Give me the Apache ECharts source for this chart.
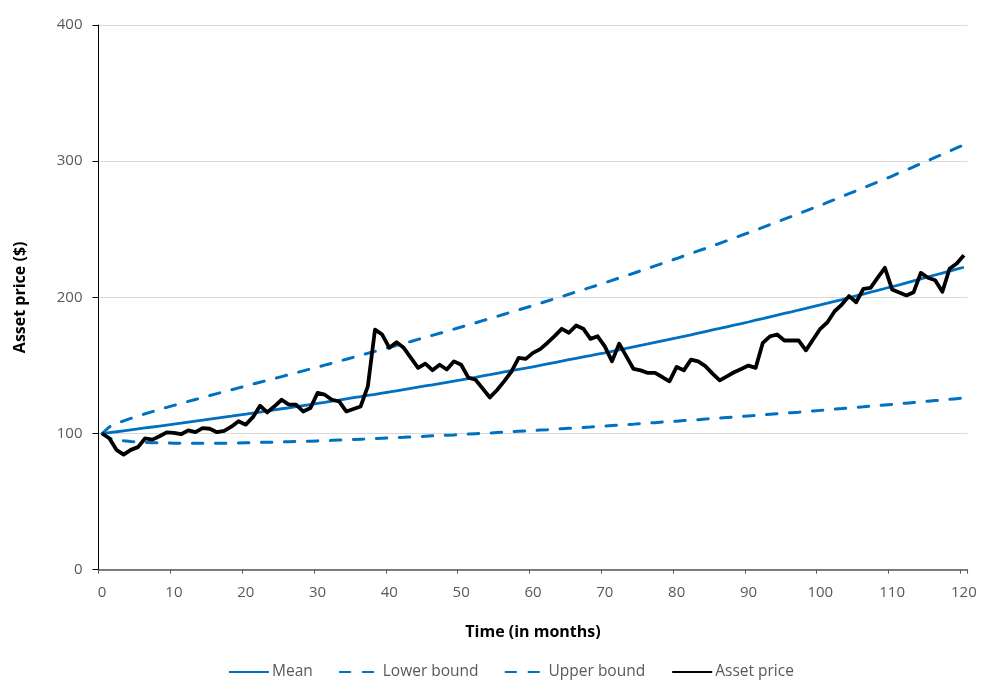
<!DOCTYPE html>
<html>
<head>
<meta charset="utf-8">
<script src="https://cdn.jsdelivr.net/npm/echarts@6/dist/echarts.min.js"></script>
<style>html,body{margin:0;padding:0;background:#fff}#c{width:987px;height:691px}</style>
</head>
<body>
<div id="c"></div>
<script>
const months = ['0','1','2','3','4','5','6','7','8','9','10','11','12','13','14','15','16','17','18','19','20','21','22','23','24','25','26','27','28','29','30','31','32','33','34','35','36','37','38','39','40','41','42','43','44','45','46','47','48','49','50','51','52','53','54','55','56','57','58','59','60','61','62','63','64','65','66','67','68','69','70','71','72','73','74','75','76','77','78','79','80','81','82','83','84','85','86','87','88','89','90','91','92','93','94','95','96','97','98','99','100','101','102','103','104','105','106','107','108','109','110','111','112','113','114','115','116','117','118','119','120'];

const meanValues = [100.0,100.7,101.3,102.0,102.7,103.4,104.1,104.8,105.5,106.2,
106.9,107.6,108.4,109.1,109.8,110.6,111.3,112.0,112.7,113.5,
114.2,115.0,115.8,116.6,117.4,118.2,118.9,119.7,120.5,121.3,
122.1,122.9,123.8,124.6,125.5,126.3,127.1,128.0,128.8,129.7,
130.5,131.4,132.3,133.2,134.1,135.0,135.8,136.7,137.6,138.5,
139.4,140.4,141.3,142.3,143.2,144.2,145.2,146.1,147.1,148.0,
149.0,150.0,151.1,152.1,153.1,154.2,155.2,156.2,157.2,158.3,
159.3,160.4,161.5,162.6,163.7,164.8,165.8,166.9,168.0,169.1,
170.2,171.4,172.5,173.7,174.9,176.1,177.2,178.4,179.6,180.7,
181.9,183.2,184.4,185.7,186.9,188.2,189.4,190.7,191.9,193.2,
194.4,195.7,197.1,198.4,199.8,201.1,202.4,203.8,205.1,206.5,
207.8,209.2,210.7,212.1,213.5,215.0,216.4,217.8,219.2,220.7,
222.1];

const lowerValues = [100.0,96.5,95.4,94.7,94.2,93.8,93.5,93.3,93.1,93.0,
92.9,92.8,92.8,92.8,92.8,92.8,92.9,92.9,93.0,93.1,
93.2,93.3,93.5,93.6,93.7,93.8,94.0,94.1,94.3,94.4,
94.6,94.8,95.0,95.2,95.4,95.6,95.8,96.0,96.3,96.5,
96.7,97.0,97.2,97.5,97.7,98.0,98.3,98.5,98.8,99.0,
99.3,99.6,99.9,100.1,100.4,100.7,101.0,101.3,101.6,101.9,
102.2,102.5,102.8,103.2,103.5,103.8,104.1,104.5,104.8,105.2,
105.5,105.9,106.2,106.6,106.9,107.3,107.7,108.0,108.4,108.7,
109.1,109.5,109.9,110.2,110.6,111.0,111.4,111.8,112.1,112.5,
112.9,113.3,113.7,114.1,114.5,114.9,115.3,115.7,116.2,116.6,
117.0,117.4,117.9,118.3,118.8,119.2,119.6,120.1,120.5,121.0,
121.4,121.9,122.3,122.8,123.2,123.7,124.2,124.6,125.1,125.6,
126.1];

const upperValues = [100.0,104.8,107.2,109.3,111.1,112.9,114.5,116.1,117.7,119.2,
120.7,122.1,123.6,125.0,126.4,127.9,129.3,130.7,132.1,133.5,
134.9,136.3,137.7,139.0,140.4,141.8,143.2,144.6,146.0,147.4,
148.8,150.2,151.6,153.1,154.5,156.0,157.4,158.9,160.3,161.8,
163.2,164.7,166.2,167.6,169.1,170.6,172.1,173.6,175.1,176.7,
178.2,179.8,181.3,182.9,184.4,186.0,187.6,189.2,190.8,192.4,
194.0,195.7,197.3,199.0,200.6,202.3,204.0,205.7,207.3,209.0,
210.7,212.5,214.2,216.0,217.7,219.5,221.3,223.1,224.9,226.7,
228.5,230.4,232.2,234.1,235.9,237.8,239.7,241.6,243.6,245.5,
247.4,249.4,251.4,253.4,255.4,257.4,259.4,261.5,263.5,265.6,
267.6,269.7,271.8,274.0,276.1,278.2,280.4,282.6,284.7,286.9,
289.1,291.4,293.6,295.9,298.1,300.4,302.7,305.0,307.4,309.7,
312.0];

const assetValues = [100,96.5,88,84.5,88,90,96.5,95.5,98,100.8,
100.5,99.5,102.3,101,104,103.5,101,102,105,109,
106.5,112,120.4,115.5,120,124.8,121.2,121.2,116.2,118.7,
129.8,128.5,124.8,123.6,116.2,118,119.9,134.6,176.3,172.7,
162.9,167,162.9,155.5,148.2,151.3,146.5,150.5,147,153,
150.5,141,139.5,133,126.5,132,138.5,145.5,155.5,154.8,
159.2,162,166.5,171.5,176.9,174,179.3,177,169.5,171.4,
164,153,166,156.7,147.4,146.4,144.5,144.5,141.5,138.3,
148.9,146.4,154.3,153,149.5,144,139,142,145,147.4,
149.9,148.2,166.6,171.4,172.7,168.3,168.3,168.3,161.1,169,
176.9,181.7,189.8,194.7,200.9,196.4,206.3,207,214.5,221.7,
205.8,203.5,201.4,203.8,218,214.4,212.6,204.1,221,224.9,
231];

const yTicks = { min: 0, max: 400, interval: 100 };
const seriesNames = ['Mean', 'Lower bound', 'Upper bound', 'Asset price'];

const FONT = 'Open Sans';
const BLUE = '#0070C0';
const chart = echarts.init(document.getElementById('c'), null, { renderer: 'canvas' });

const dashStyle = { color: BLUE, width: 3, type: [10.5, 12.5], cap: 'round' };

chart.setOption({
  animation: false,
  backgroundColor: '#fff',
  textStyle: { fontFamily: FONT },
  grid: { left: 98.5, right: 19.5, top: 25, bottom: 121.3, containLabel: false },
  legend: {
    data: seriesNames,
    left: 223,
    top: 659,
    itemWidth: 40,
    itemHeight: 14,
    itemGap: 26,
    itemStyle: { opacity: 0 },
    textStyle: { fontFamily: FONT, fontSize: 15.5, color: '#595959', padding: [0, 0, 0, -2] }
  },
  xAxis: {
    type: 'category',
    data: months,
    boundaryGap: true,
    name: 'Time (in months)',
    nameLocation: 'middle',
    nameGap: 55,
    nameTextStyle: { fontFamily: FONT, fontSize: 16, fontWeight: 'bold', color: '#000' },
    axisLine: { show: true, lineStyle: { color: '#595959', width: 1.5 } },
    axisTick: { show: true, interval: 9, alignWithLabel: false, length: 4, lineStyle: { color: '#595959', width: 1 } },
    axisLabel: { interval: 9, margin: 16, fontFamily: FONT, fontSize: 15, color: '#595959' },
    splitLine: { show: false }
  },
  yAxis: {
    type: 'value',
    min: yTicks.min,
    max: yTicks.max,
    interval: yTicks.interval,
    name: 'Asset price ($)',
    nameLocation: 'middle',
    nameGap: 70,
    nameTextStyle: { fontFamily: FONT, fontSize: 16, fontWeight: 'bold', color: '#000' },
    axisLine: { show: true, lineStyle: { color: '#000', width: 1 } },
    axisTick: { show: true, length: 6, lineStyle: { color: '#000', width: 1 } },
    axisLabel: { margin: 16, fontFamily: FONT, fontSize: 15, color: '#595959' },
    splitLine: { show: true, lineStyle: { color: '#d9d9d9', width: 1 } }
  },
  series: [
    { name: seriesNames[0], type: 'line', data: meanValues, symbol: 'none', z: 3,
      lineStyle: { color: BLUE, width: 2.8 }, itemStyle: { color: BLUE } },
    { name: seriesNames[1], type: 'line', data: lowerValues, symbol: 'none', z: 2,
      lineStyle: dashStyle, itemStyle: { color: BLUE } },
    { name: seriesNames[2], type: 'line', data: upperValues, symbol: 'none', z: 2,
      lineStyle: dashStyle, itemStyle: { color: BLUE } },
    { name: seriesNames[3], type: 'line', data: assetValues, symbol: 'none', z: 4,
      lineStyle: { color: '#000', width: 3.8, join: 'round' }, itemStyle: { color: '#000' } }
  ]
});
</script>
</body>
</html>
